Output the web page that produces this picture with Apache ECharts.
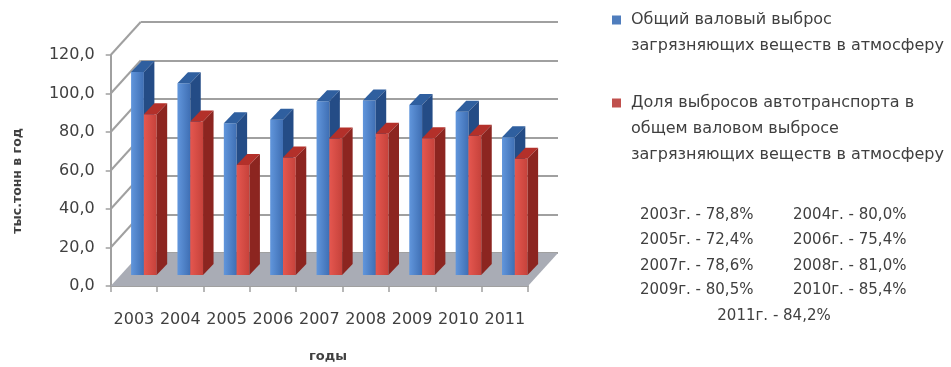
<!DOCTYPE html>
<html><head><meta charset="utf-8">
<script src="https://cdn.jsdelivr.net/npm/echarts/dist/echarts.min.js"></script>
<style>html,body{margin:0;padding:0;background:#fff}#c{width:951px;height:367px}</style>
</head><body><div id="c"></div>
<script>
// ---- data ----
const years = ['2003','2004','2005','2006','2007','2008','2009','2010','2011'];
const totalEmission = [105.5, 99.6, 78.8, 80.7, 90.2, 90.7, 88.3, 84.8, 71.6];
const transportEmission = [83.5, 79.7, 57.2, 61.0, 70.9, 73.4, 71.1, 72.4, 60.4];
const yTicks = [0, 20, 40, 60, 80, 100, 120];
const seriesNames = [
  'Общий валовый выброс\nзагрязняющих веществ в атмосферу',
  'Доля выбросов автотранспорта в\nобщем валовом выбросе\nзагрязняющих веществ в атмосферу'
];
const shareLabels = ['2003г. - 78,8%','2004г. - 80,0%','2005г. - 72,4%','2006г. - 75,4%',
  '2007г. - 78,6%','2008г. - 81,0%','2009г. - 80,5%','2010г. - 85,4%','2011г. - 84,2%'];
const yTitle = 'тыс.тонн в год';
const xTitle = 'годы';

// ---- layout / style ----
const FONT = 'DejaVu Sans';
const TXT = '#404040';
const GRID_COL = '#a0a0a0';
const FRONT = {left:110.7, top:55, width:417.3, height:231};
const BAR_OFF = [10, -11];
const WALL_OFF = [30, -33];
const BAR_DEPTH = [10.5, -11];
const BAR_W = 0.276;
const SHIFT = [-0.138, 0.138];
const COLORS = [
  {front:['#6196dc','#3f6fb4'], top:'#2f5f9f', side:'#244c86', legend:'#4f7dbd'},
  {front:['#e5574f','#c6423b'], top:'#b3302a', side:'#8c2520', legend:'#c0504d'}
];
function gridAt(off){ return {left:FRONT.left+off[0], top:FRONT.top+off[1], width:FRONT.width, height:FRONT.height, containLabel:false, outerBoundsMode:'none'}; }

function barRenderer(si){
  return function(params, api){
    const idx = api.value(0), val = api.value(1);
    const base = api.coord([idx, 0]);
    const top = api.coord([idx, val]);
    const band = api.size([1, 0])[0];
    const w = band * BAR_W;
    const cx = base[0] + SHIFT[si] * band;
    const x0 = cx - w/2, x1 = cx + w/2, yt = top[1], yb = base[1];
    const dx = BAR_DEPTH[0], dy = BAR_DEPTH[1];
    const c = COLORS[si];
    return {type:'group', children:[
      {type:'rect', shape:{x:x0, y:yt, width:w, height:yb-yt},
        style:{fill:new echarts.graphic.LinearGradient(0,0,1,0,[{offset:0,color:c.front[0]},{offset:1,color:c.front[1]}])}},
      {type:'polygon', shape:{points:[[x0,yt],[x1,yt],[x1+dx,yt+dy],[x0+dx,yt+dy]]}, style:{fill:c.top}},
      {type:'polygon', shape:{points:[[x1,yt],[x1+dx,yt+dy],[x1+dx,yb+dy],[x1,yb]]}, style:{fill:c.side}}
    ]};
  };
}

const graphic = [];
graphic.push({type:'text', x:18, y:181, rotation:Math.PI/2, silent:true,
  style:{text:yTitle, font:'bold 12.5px '+FONT, fill:TXT, align:'center', verticalAlign:'middle'}});
graphic.push({type:'text', x:328, y:357, silent:true,
  style:{text:xTitle, font:'bold 13px '+FONT, fill:TXT, align:'center', verticalAlign:'middle'}});
// legend
const legendY = [20, 103];
seriesNames.forEach((n, i) => {
  graphic.push({type:'rect', shape:{x:612, y:legendY[i]-4.5, width:9, height:9}, style:{fill:COLORS[i].legend}, silent:true});
  graphic.push({type:'text', x:631, y:legendY[i]-13, silent:true,
    style:{text:n, font:'16px '+FONT, fill:TXT, lineHeight:26, verticalAlign:'top', align:'left'}});
});
// share table
const rowsY = [215, 240, 266, 290];
for (let r = 0; r < 4; r++) {
  graphic.push({type:'text', x:640, y:rowsY[r], silent:true, style:{text:shareLabels[2*r], font:'15px '+FONT, fill:TXT, verticalAlign:'middle'}});
  graphic.push({type:'text', x:793, y:rowsY[r], silent:true, style:{text:shareLabels[2*r+1], font:'15px '+FONT, fill:TXT, verticalAlign:'middle'}});
}
graphic.push({type:'text', x:774, y:316, silent:true, style:{text:shareLabels[8], font:'15px '+FONT, fill:TXT, align:'center', verticalAlign:'middle'}});

const fmt = v => v.toFixed(1).replace('.', ',');
const chart = echarts.init(document.getElementById('c'), null, {renderer:'canvas'});
chart.setOption({
  animation:false,
  backgroundColor:'#ffffff',
  grid:[gridAt([0,0]), gridAt(BAR_OFF), gridAt(WALL_OFF)],
  xAxis:[
    {gridIndex:0, type:'category', data:years,
      axisLine:{show:true, lineStyle:{color:GRID_COL, width:2}},
      axisTick:{show:true, length:6, lineStyle:{color:GRID_COL, width:1.5}},
      axisLabel:{interval:0, margin:26, fontFamily:FONT, fontSize:16, color:TXT}},
    {gridIndex:1, type:'category', data:years, show:false},
    {gridIndex:2, type:'category', data:years, show:false}
  ],
  yAxis:[
    {gridIndex:0, type:'value', min:0, max:120, interval:20,
      axisLine:{show:true, lineStyle:{color:GRID_COL, width:2}},
      axisTick:{show:true, length:5, lineStyle:{color:GRID_COL, width:1.5}},
      splitLine:{show:false},
      axisLabel:{margin:16, formatter:fmt, fontFamily:FONT, fontSize:16, color:TXT}},
    {gridIndex:1, type:'value', min:0, max:120, interval:20, show:false},
    {gridIndex:2, type:'value', min:0, max:120, interval:20,
      axisLine:{show:false}, axisTick:{show:false}, axisLabel:{show:false},
      splitLine:{show:true, lineStyle:{color:GRID_COL, width:2}}}
  ],
  series:[
    {type:'custom', name:'floor', xAxisIndex:0, yAxisIndex:0, silent:true, z:1, data:[[0,0]],
      renderItem:function(params, api){
        const cs = params.coordSys;
        const y = api.coord([0,0])[1], x = cs.x, w = cs.width;
        return {type:'polygon', shape:{points:[[x,y],[x+w,y],[x+w+WALL_OFF[0],y+WALL_OFF[1]],[x+WALL_OFF[0],y+WALL_OFF[1]]]},
          style:{fill:'#a9acb5'}};
      }},
    {type:'custom', name:'sidewall', xAxisIndex:0, yAxisIndex:0, silent:true, z:1,
      data:yTicks.slice(1).map(v => [0, v]),
      renderItem:function(params, api){
        const cs = params.coordSys;
        const y = api.coord([0, api.value(1)])[1];
        return {type:'line', shape:{x1:cs.x, y1:y, x2:cs.x+WALL_OFF[0], y2:y+WALL_OFF[1]},
          style:{stroke:GRID_COL, lineWidth:2}};
      }},
    {type:'custom', name:seriesNames[0], xAxisIndex:1, yAxisIndex:1, silent:true, z:3,
      data:totalEmission.map((v,i) => [i, v]), renderItem:barRenderer(0)},
    {type:'custom', name:seriesNames[1], xAxisIndex:1, yAxisIndex:1, silent:true, z:3,
      data:transportEmission.map((v,i) => [i, v]), renderItem:barRenderer(1)}
  ],
  graphic:graphic
});
</script></body></html>
